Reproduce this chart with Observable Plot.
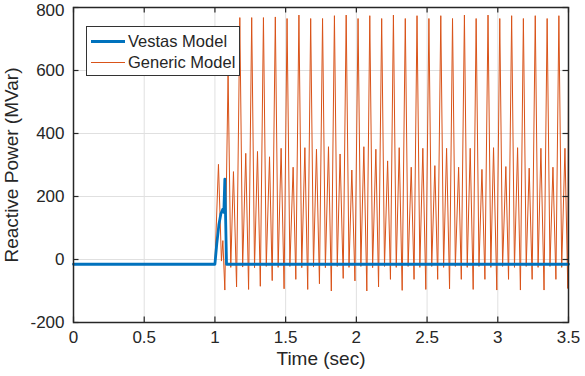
<!DOCTYPE html>
<html><head><meta charset="utf-8">
<script src="https://cdn.jsdelivr.net/npm/d3@7"></script>
<script src="https://cdn.jsdelivr.net/npm/@observablehq/plot@0.6"></script>
<style>
body{margin:0;background:#fff;}
#wrap{position:relative;width:585px;height:376px;font-family:"Liberation Sans",Arial,Helvetica,sans-serif;}
#legend{position:absolute;left:86px;top:26px;width:154px;height:50px;border:1px solid #333;background:#fff;box-sizing:border-box;}
.row{position:absolute;left:0;height:20px;display:flex;align-items:center;}
.sw{width:34px;margin-left:4px;}
.lbl{font-size:16.5px;color:#262626;margin-left:3px;white-space:nowrap;}
</style></head>
<body>
<div id="wrap"><div id="chart"></div>
<div id="legend">
  <div class="row" style="top:4px"><div class="sw" style="border-top:3px solid #0072BD;height:0"></div><div class="lbl">Vestas Model</div></div>
  <div class="row" style="top:25px"><div class="sw" style="border-top:1px solid #D95319;height:0"></div><div class="lbl">Generic Model</div></div>
</div>
</div>
<script>
const xTicks = [0, 0.5, 1, 1.5, 2, 2.5, 3, 3.5];
const yTicks = [-200, 0, 200, 400, 600, 800];
const seriesNames = ["Vestas Model", "Generic Model"];

const vestasTime  = [0, 1.000, 1.013, 1.028, 1.042, 1.056, 1.063, 1.070, 1.082, 3.5];
const vestasValue = [-15, -15, 50, 110, 145, 160, 150, 255, -15, -15];

const genericTime = [
  0, 1.000, 1.025, 1.046, 1.056, 1.070, 1.093, 1.112, 1.131, 1.153,
  1.176, 1.196, 1.218, 1.238,
  1.260, 1.280, 1.301, 1.321,
  1.343, 1.363, 1.386, 1.405,
  1.427, 1.447, 1.468, 1.489,
  1.510, 1.530, 1.553, 1.572,
  1.594, 1.614, 1.636, 1.656,
  1.677, 1.697, 1.718, 1.739,
  1.761, 1.781, 1.803, 1.823,
  1.845, 1.865, 1.885, 1.907,
  1.928, 1.948, 1.968, 1.990,
  2.012, 2.032, 2.053, 2.074,
  2.095, 2.115, 2.138, 2.157,
  2.179, 2.199, 2.221, 2.241,
  2.262, 2.282, 2.303, 2.324,
  2.346, 2.366, 2.388, 2.408,
  2.429, 2.449, 2.470, 2.491,
  2.513, 2.533, 2.555, 2.575,
  2.597, 2.617, 2.638, 2.659,
  2.680, 2.700, 2.723, 2.742,
  2.764, 2.784, 2.805, 2.826,
  2.847, 2.867, 2.888, 2.909,
  2.931, 2.951, 2.970, 2.993,
  3.014, 3.034, 3.057, 3.076,
  3.098, 3.118, 3.140, 3.160,
  3.181, 3.201, 3.222, 3.243,
  3.265, 3.285, 3.305, 3.327,
  3.349, 3.369, 3.390, 3.411,
  3.432, 3.452, 3.475, 3.495,
  3.500
];
const genericValue = [
  -13, -13, 302, -5, 60, -97, 590, -25, 279, -87,
  768, -24, 337, -95,
  768, -26, 343, -85,
  768, -22, 326, -67,
  770, -25, 353, -93,
  765, -22, 293, -63,
  776, -26, 355, -95,
  765, -24, 350, -77,
  765, -26, 358, -100,
  774, -22, 335, -60,
  776, -25, 284, -68,
  765, -22, 358, -100,
  774, -26, 350, -87,
  765, -22, 313, -63,
  776, -25, 355, -98,
  765, -22, 293, -63,
  774, -25, 353, -95,
  765, -22, 298, -63,
  774, -25, 353, -93,
  765, -22, 293, -63,
  776, -25, 353, -95,
  765, -22, 286, -63,
  776, -25, 355, -97,
  765, -22, 295, -63,
  774, -25, 355, -97,
  765, -22, 290, -63,
  774, -25, 353, -97,
  765, -22, 293, -63,
  774, -25, 353, -92,
  610
];

const vestas = vestasTime.map((t, i) => ({t, v: vestasValue[i]}));
const generic = genericTime.map((t, i) => ({t, v: genericValue[i]}));

const H = 376, mt = 7, mb = 54;
const plotH = H - mt - mb;
const tick = 5.5;
const ink = "#262626";
const yMax = yTicks[yTicks.length - 1];

const chart = Plot.plot({
  width: 585, height: H,
  marginLeft: 73, marginRight: 17, marginTop: mt, marginBottom: mb,
  x: {domain: [0, 3.5]},
  y: {domain: [-200, 800]},
  style: {fontFamily: '"Liberation Sans", Arial, Helvetica, sans-serif', fontSize: "17px", color: ink, background: "#fff", overflow: "visible"},
  marks: [
    Plot.gridX(xTicks, {stroke: "#e0e0e0", strokeOpacity: 1}),
    Plot.gridY(yTicks, {stroke: "#e0e0e0", strokeOpacity: 1}),
    Plot.line(generic, {x: "t", y: "v", stroke: "#D95319", strokeWidth: 1}),
    Plot.line(vestas, {x: "t", y: "v", stroke: "#0072BD", strokeWidth: 2.8}),
    Plot.tickX(xTicks, {x: d => d, insetTop: plotH - tick, stroke: ink, strokeWidth: 1.2}),
    Plot.tickX(xTicks, {x: d => d, insetBottom: plotH - tick, stroke: ink, strokeWidth: 1.2}),
    Plot.tickY(yTicks, {y: d => d, insetRight: 495 - tick, stroke: ink, strokeWidth: 1.2}),
    Plot.tickY(yTicks, {y: d => d, insetLeft: 495 - tick, stroke: ink, strokeWidth: 1.2}),
    Plot.axisX(xTicks, {tickSize: 0, tickPadding: 8, fontSize: 17, label: null, tickFormat: d => String(d)}),
    Plot.axisY(yTicks.filter(d => d < yMax), {tickSize: 0, tickPadding: 9, fontSize: 17, label: null, tickFormat: d => String(d)}),
    Plot.axisY([yMax], {tickSize: 0, tickPadding: 9, fontSize: 17, label: null, dy: 3, tickFormat: d => String(d)}),
    Plot.frame({stroke: ink, strokeWidth: 1.5}),
    Plot.text(["Time (sec)"], {text: d => d, frameAnchor: "bottom", dy: 42, fontSize: 19, fill: ink}),
    Plot.text(["Reactive Power (MVar)"], {text: d => d, frameAnchor: "left", textAnchor: "middle", dx: -62, rotate: -90, fontSize: 19, fill: ink})
  ]
});
document.getElementById("chart").appendChild(chart);
</script>
</body></html>
